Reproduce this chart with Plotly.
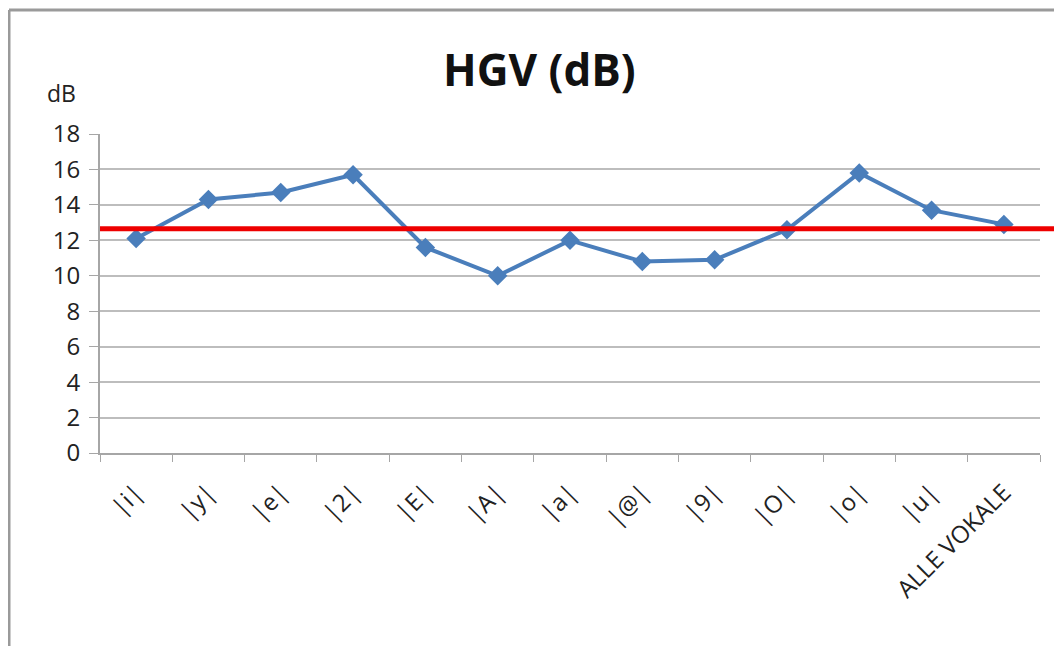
import plotly.graph_objects as go

categories = ["|i|", "|y|", "|e|", "|2|", "|E|", "|A|", "|a|", "|@|", "|9|", "|O|", "|o|", "|u|", "ALLE VOKALE"]
hgv_values = [12.1, 14.3, 14.7, 15.7, 11.6, 10.0, 12.0, 10.8, 10.9, 12.6, 15.8, 13.7, 12.9]
reference_level = 12.65
y_ticks = [0, 2, 4, 6, 8, 10, 12, 14, 16, 18]

# page has an 8px body margin; work in page pixels and convert
OFF = 8
W, H = 1062 - OFF, 646 - OFF
plot_left, plot_right, plot_top, plot_bottom = 100, 1040, 134, 453  # page px
L = plot_left - OFF
T = plot_top - OFF
R = W - (plot_right - OFF)
B = H - (plot_bottom - OFF)
plot_w = W - L - R
plot_h = H - T - B

def px_to_paper_x(px):
    return (px - plot_left) / plot_w

def py_to_paper_y(py):
    return (plot_bottom - py) / plot_h

font_family = "Open Sans, Liberation Sans, sans-serif"

fig = go.Figure()
fig.add_trace(go.Scatter(
    x=categories, y=hgv_values, mode="lines+markers",
    line=dict(color="#4a7ebb", width=4),
    marker=dict(symbol="diamond", size=15, color="#4a7ebb"),
    showlegend=False, cliponaxis=False,
))

# red reference line extending to the right edge of the picture
fig.add_shape(type="line", xref="paper", yref="y",
              x0=0, x1=px_to_paper_x(1070), y0=reference_level, y1=reference_level,
              line=dict(color="#ee0000", width=5), layer="above")

# chart-area border (top and left edges visible)
fig.add_shape(type="line", xref="paper", yref="paper",
              x0=px_to_paper_x(9), x1=px_to_paper_x(1070),
              y0=py_to_paper_y(10), y1=py_to_paper_y(10),
              line=dict(color="#9a9a9a", width=3))
fig.add_shape(type="line", xref="paper", yref="paper",
              x0=px_to_paper_x(9), x1=px_to_paper_x(9),
              y0=py_to_paper_y(10), y1=py_to_paper_y(660),
              line=dict(color="#9a9a9a", width=3))

fig.add_annotation(text="dB", xref="paper", yref="paper",
                   x=px_to_paper_x(45), y=py_to_paper_y(93),
                   xanchor="left", yanchor="middle", showarrow=False,
                   font=dict(family=font_family, size=23, color="#222222"))

fig.add_annotation(text="<b>HGV (dB)</b>", xref="paper", yref="paper",
                   x=px_to_paper_x(539), y=py_to_paper_y(69),
                   xanchor="center", yanchor="middle", showarrow=False,
                   font=dict(family=font_family, size=44, color="#111111"))

fig.update_layout(
    width=W, height=H,
    margin=dict(l=L, r=R, t=T, b=B),
    paper_bgcolor="white", plot_bgcolor="white",
    font=dict(family=font_family, color="#222222"),
)
fig.update_xaxes(
    type="category", range=[-0.5, len(categories) - 0.5],
    tickson="boundaries", ticks="outside", ticklen=7, tickcolor="#a6a6a6",
    showline=True, linecolor="#a6a6a6", linewidth=2,
    showgrid=False, tickangle=-45, ticklabelstandoff=14,
    tickfont=dict(family=font_family, size=24, color="#222222"),
)
fig.update_yaxes(
    range=[0, 18], tickvals=y_ticks, ticks="outside", ticklen=9, tickcolor="#a6a6a6",
    showline=True, linecolor="#a6a6a6", linewidth=2,
    showgrid=True, gridcolor="#bdbdbd", gridwidth=1.5, zeroline=False,
    ticklabelstandoff=4,
    tickfont=dict(family=font_family, size=24, color="#222222"),
)

fig.write_html("out.html")
